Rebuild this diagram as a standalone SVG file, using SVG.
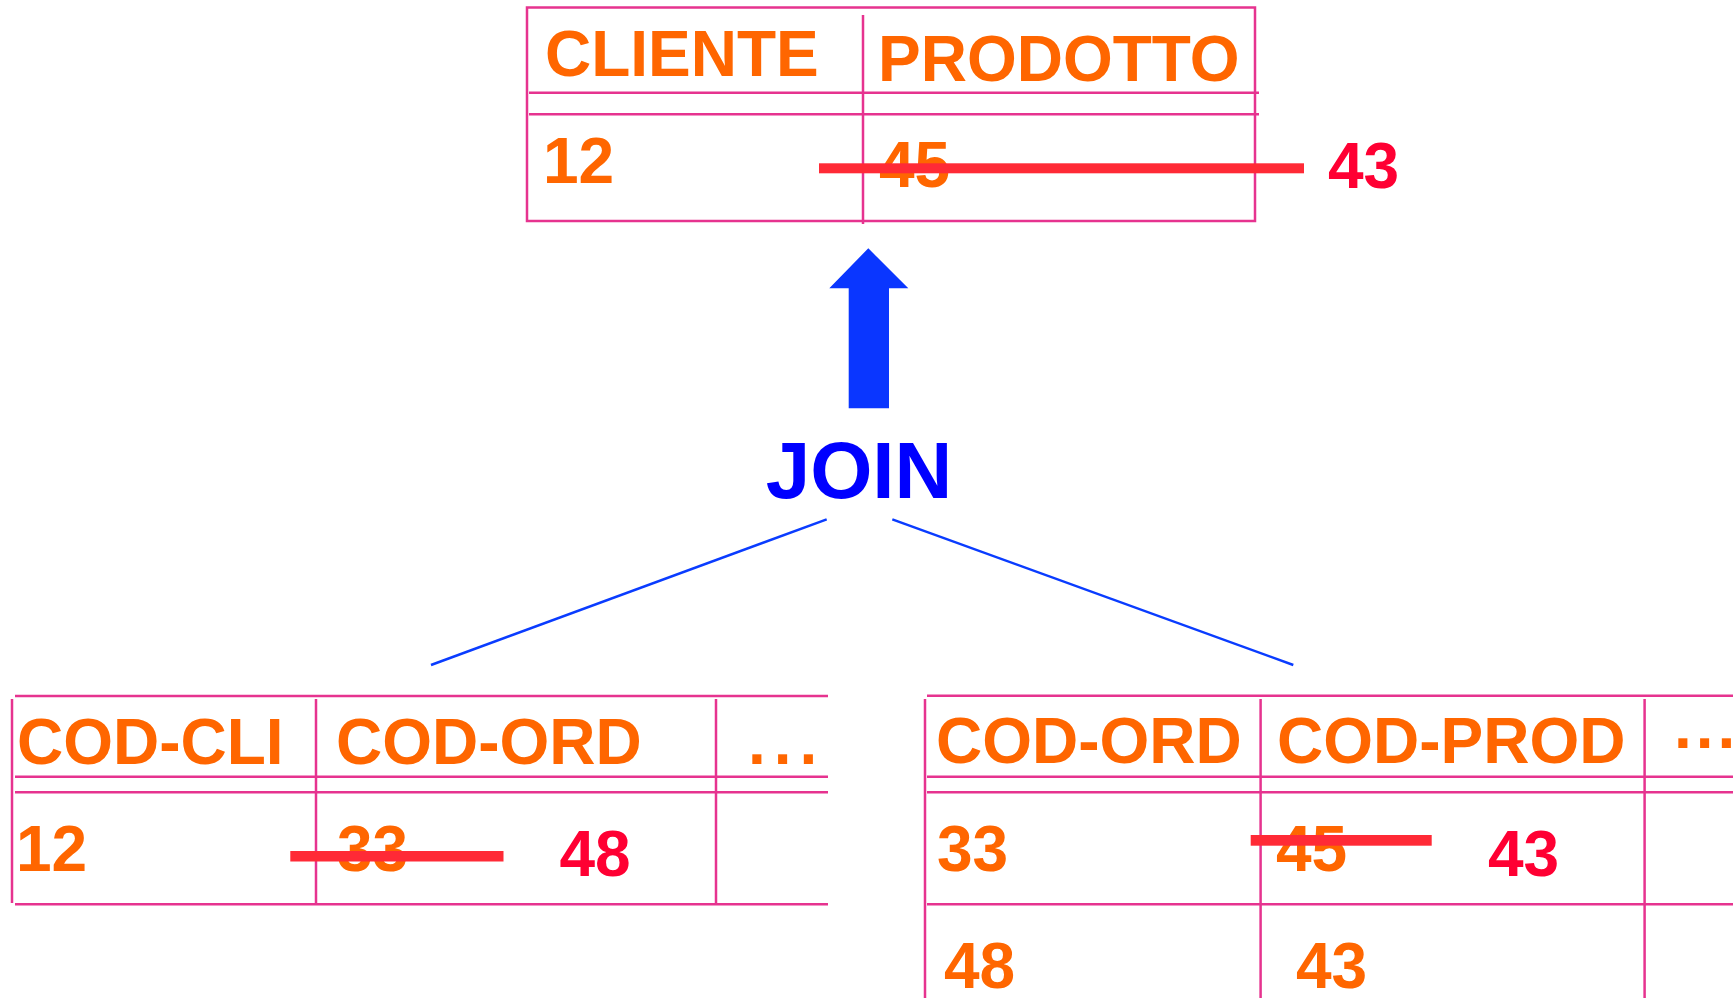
<svg xmlns="http://www.w3.org/2000/svg" width="1733" height="998" viewBox="0 0 1733 998">
<style>
.grid{stroke:#E6338F;stroke-width:2.5;fill:none}
.t{font-family:"Liberation Sans",Arial,sans-serif;font-weight:bold;fill:#FF6600;font-size:64px}
.r{fill:#FF0033}
.strike{fill:#FF2A36}
.conn{stroke:#0A3CFF;stroke-width:2.5;fill:none}
</style>
<rect width="1733" height="998" fill="#FFFFFF"/>
<g id="result-table">
  <rect class="grid" x="527" y="7.5" width="728" height="213.5"/>
  <line class="grid" x1="863" y1="15" x2="863" y2="224"/>
  <line class="grid" x1="529" y1="92.7" x2="1259" y2="92.7"/>
  <line class="grid" x1="529" y1="114.3" x2="1259" y2="114.3"/>
  <text class="t" x="545" y="76">CLIENTE</text>
  <text class="t" x="878" y="80.7">PRODOTTO</text>
  <text class="t" x="543" y="182.7">12</text>
  <text class="t" x="879" y="187.3">45</text>
  <rect class="strike" x="819" y="163.3" width="485" height="10"/>
  <text class="t r" x="1328" y="187.7">43</text>
</g>
<g id="join">
  <polygon points="868.3,248.3 908.3,288.3 889,288.3 889,408.3 848.7,408.3 848.7,288.3 829.3,288.3" fill="#0A36FF"/>
  <text x="859" y="498.3" text-anchor="middle" font-family="Liberation Sans, Arial, sans-serif" font-weight="bold" font-size="80" fill="#0000FF">JOIN</text>
</g>
<g id="connectors">
  <line class="conn" x1="826.7" y1="519.3" x2="431" y2="665"/>
  <line class="conn" x1="892.3" y1="519.3" x2="1293.3" y2="665"/>
</g>
<g id="left-table">
  <line class="grid" x1="15" y1="696" x2="828" y2="696"/>
  <line class="grid" x1="12" y1="699" x2="12" y2="903"/>
  <line class="grid" x1="316" y1="699" x2="316" y2="904"/>
  <line class="grid" x1="716" y1="699" x2="716" y2="904"/>
  <line class="grid" x1="15" y1="776.7" x2="828" y2="776.7"/>
  <line class="grid" x1="15" y1="792.3" x2="828" y2="792.3"/>
  <line class="grid" x1="15" y1="904.3" x2="828" y2="904.3"/>
  <text class="t" x="17" y="764">COD-CLI</text>
  <text class="t" x="336" y="764">COD-ORD</text>
  <text class="t" x="748" y="764" font-size="76" letter-spacing="8">...</text>
  <text class="t" x="16" y="870.7">12</text>
  <text class="t" x="337" y="870.7">33</text>
  <rect class="strike" x="290.3" y="851" width="213.2" height="10.5"/>
  <text class="t r" x="559.5" y="876">48</text>
</g>
<g id="right-table">
  <line class="grid" x1="927" y1="695.7" x2="1733" y2="695.7"/>
  <line class="grid" x1="925" y1="699" x2="925" y2="998"/>
  <line class="grid" x1="1260.6" y1="699" x2="1260.6" y2="998"/>
  <line class="grid" x1="1644.6" y1="699" x2="1644.6" y2="998"/>
  <line class="grid" x1="927" y1="776.7" x2="1733" y2="776.7"/>
  <line class="grid" x1="927" y1="792.3" x2="1733" y2="792.3"/>
  <line class="grid" x1="927" y1="904.3" x2="1733" y2="904.3"/>
  <text class="t" x="936" y="763.3">COD-ORD</text>
  <text class="t" x="1277" y="763.3">COD-PROD</text>
  <text class="t" x="1674" y="748" letter-spacing="4">...</text>
  <text class="t" x="937" y="871">33</text>
  <text class="t" x="1276" y="871">45</text>
  <rect class="strike" x="1250.7" y="835" width="181" height="10.7"/>
  <text class="t r" x="1488" y="876">43</text>
  <text class="t" x="944" y="987.7">48</text>
  <text class="t" x="1296" y="987.7">43</text>
</g>
</svg>
